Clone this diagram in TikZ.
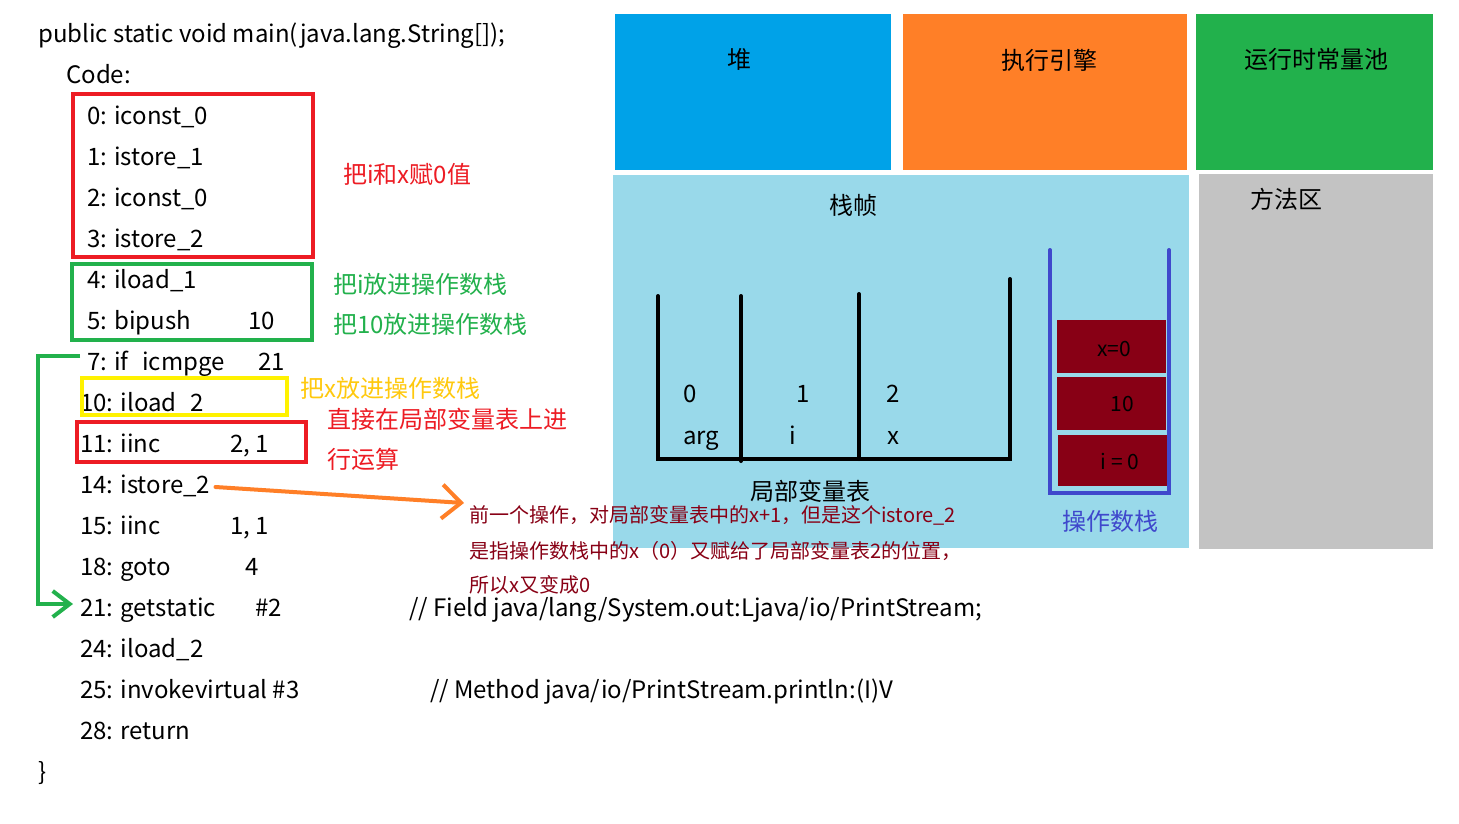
\documentclass[tikz,border=0pt]{standalone}
\usepackage{fontspec}
\setmainfont{Noto Sans CJK SC}
\usetikzlibrary{arrows.meta}
\definecolor{cblue}{HTML}{00A2E8}
\definecolor{corange}{HTML}{FF7F27}
\definecolor{cgreen}{HTML}{22B14C}
\definecolor{clight}{HTML}{99D9EA}
\definecolor{cgray}{HTML}{C3C3C3}
\definecolor{cred}{HTML}{ED1C24}
\definecolor{cyellow}{HTML}{FFF200}
\definecolor{cgold}{HTML}{FFC90E}
\definecolor{cdark}{HTML}{880015}
\definecolor{cindigo}{HTML}{3F48CC}
\begin{document}
\begin{tikzpicture}[x=1pt,y=-1pt,
  code/.style={anchor=base west, inner sep=0pt, text height=18pt, text depth=6pt, font=\fontsize{24}{28}\selectfont},
  area/.style={anchor=north west, inner sep=0pt, draw=none},
  label/.style={inner sep=0pt, font=\fontsize{24}{28}\selectfont},
  note/.style={anchor=west, inner sep=0pt, font=\fontsize{24}{28}\selectfont},
  small/.style={anchor=west, inner sep=0pt, text=cdark, font=\fontsize{20}{24}\selectfont},
  frame/.style={line width=4pt},
  wall/.style={line width=4pt, line cap=round},
  cell/.style={fill=cdark, inner sep=0pt, minimum width=109pt, anchor=north west},
  celltext/.style={inner sep=0pt, font=\fontsize{21}{24}\selectfont},
]
\useasboundingbox (0,0) rectangle (1459,823);
\fill[white] (0,0) rectangle (1459,823);

% ---------- runtime areas ----------
\node[area, fill=cblue, minimum width=276pt, minimum height=156pt] (heap) at (615,14) {};
\node[area, fill=corange, minimum width=284pt, minimum height=156pt] (engine) at (903,14) {};
\node[area, fill=cgreen, minimum width=237pt, minimum height=156pt] (pool) at (1196,14) {};
\node[area, fill=clight, minimum width=576pt, minimum height=373pt] (frame) at (613,175) {};
\node[area, fill=cgray, minimum width=234pt, minimum height=375pt] (method) at (1199,174) {};

\node[label] (heapt) at (739,59) {堆};
\node[label] (enginet) at (1049,60) {执行引擎};
\node[label] (poolt) at (1316,59) {运行时常量池};
\node[label] (framet) at (853,205) {栈帧};
\node[label] (methodt) at (1286,199) {方法区};

% ---------- local variable table ----------
\coordinate (v0t) at (658,296);
\coordinate (v0b) at (658,459);
\coordinate (v1t) at (741,296);
\coordinate (v1b) at (741,461);
\coordinate (v2t) at (859,294);
\coordinate (v2b) at (859,459);
\coordinate (v3t) at (1010,279);
\coordinate (v3b) at (1010,459);
\draw[wall] (v0t) -- (v0b) -- (v3b) -- (v3t);
\draw[wall] (v1t) -- (v1b);
\draw[wall] (v2t) -- (v2b);

\node[code] (s0) at (683,402) {0};
\node[code] (s1) at (796,402) {1};
\node[code] (s2) at (886,402) {2};
\node[code] (n0) at (683,444) {arg};
\node[code] (n1) at (789,444) {i};
\node[code] (n2) at (887,444) {x};
\node[label] (lvt) at (810,491) {局部变量表};

% ---------- operand stack ----------
\coordinate (o0t) at (1050,250);
\coordinate (o0b) at (1050,493);
\coordinate (o1t) at (1169,250);
\coordinate (o1b) at (1169,493);
\draw[wall, cindigo] (o0t) -- (o0b) -- (o1b) -- (o1t);
\node[cell, minimum height=53pt] (c1) at (1057,320) {};
\node[cell, minimum height=53pt] (c2) at (1057,377) {};
\node[cell, minimum height=51pt] (c3) at (1058,435) {};
\node[celltext] (c1t) at (1114,349) {x=0};
\node[celltext] (c2t) at (1122,404) {10};
\node[celltext] (c3t) at (1120,461) {i = 0};
\node[label, text=cindigo] (ost) at (1110,521) {操作数栈};

% ---------- bytecode ----------
\node[code] (hdr) at (38,42) {public static void main(java.lang.String[]);};
\node[code] (codeh) at (66,83) {Code:};
\node[code] (l0) at (87,124) {0: iconst\_0};
\node[code] (l1) at (87,165) {1: istore\_1};
\node[code] (l2) at (87,206) {2: iconst\_0};
\node[code] (l3) at (87,247) {3: istore\_2};
\node[code] (l4) at (87,288) {4: iload\_1};
\node[code] (l5) at (87,329) {5: bipush};
\node[code] (l5a) at (248,329) {10};
\node[code] (l7) at (87,370) {7: if\phantom{\_}icmpge};
\node[code] (l7a) at (258,370) {21};
\node[code] (l10) at (80,411) {10: iload\phantom{\_}2};
\node[code] (l11) at (80,452) {11: iinc};
\node[code] (l11a) at (230,452) {2, 1};
\node[code] (l14) at (80,493) {14: istore\_2};
\node[code] (l15) at (80,534) {15: iinc};
\node[code] (l15a) at (230,534) {1, 1};
\node[code] (l18) at (80,575) {18: goto};
\node[code] (l18a) at (245,575) {4};
\node[code] (l21) at (80,616) {21: getstatic};
\node[code] (l21a) at (255,616) {\#2};
\node[code] (l21c) at (409,616) {// Field java/lang/System.out:Ljava/io/PrintStream;};
\node[code] (l24) at (80,657) {24: iload\_2};
\node[code] (l25) at (80,698) {25: invokevirtual \#3};
\node[code] (l25c) at (430,698) {// Method java/io/PrintStream.println:(I)V};
\node[code] (l28) at (80,739) {28: return};
\node[code] (close) at (38,780) {\}};

% ---------- highlight boxes ----------
\draw[frame, cred] (73,94) rectangle (313,257);
\draw[frame, cgreen] (72,264) rectangle (312,340);
\draw[frame, cyellow] (82,378) rectangle (287,415);
\draw[frame, cred] (77,422) rectangle (306,462);

% ---------- annotations ----------
\node[note, text=cred] (a1) at (343,174) {把i和x赋0值};
\node[note, text=cgreen] (a2) at (333,284) {把i放进操作数栈};
\node[note, text=cgreen] (a3) at (333,324) {把10放进操作数栈};
\node[note, text=cgold] (a4) at (300,388) {把x放进操作数栈};
\node[note, text=cred] (a5) at (327,419) {直接在局部变量表上进};
\node[note, text=cred] (a6) at (327,459) {行运算};
\node[small] (m1) at (469,515) {前一个操作，对局部变量表中的x+1，但是这个istore\_2};
\node[small] (m2) at (469,551) {是指操作数栈中的x（0）又赋给了局部变量表2的位置，};
\node[small] (m3) at (469,585) {所以x又变成0};

% ---------- connectors ----------
\coordinate (otip) at (464,503);
\draw[line width=4pt, corange, line cap=round, -{Straight Barb[length=19pt,width=34pt,line width=4pt]}]
  ([xshift=5pt,yshift=0pt]l14.east) -- (otip);
\draw[line width=4pt, cgreen, -{Straight Barb[length=17pt,width=26pt,line width=4pt]}]
  ([xshift=-7pt,yshift=8pt]l7.west) -| ([xshift=-42pt,yshift=6pt]l21.west) -- ([xshift=-7pt,yshift=6pt]l21.west);
\end{tikzpicture}
\end{document}
